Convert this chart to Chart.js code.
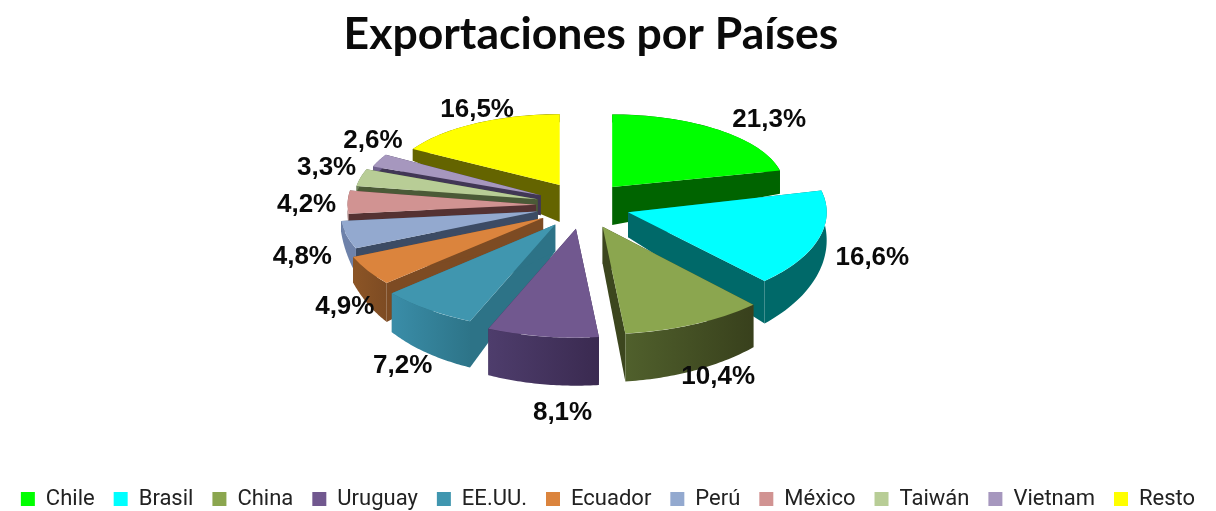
<!DOCTYPE html>
<html><head><meta charset="utf-8">
<style>html,body{margin:0;padding:0;background:#fff}#w{width:1216px;height:511px}</style>
<script src="https://cdn.jsdelivr.net/npm/chart.js@4/dist/chart.umd.min.js"></script>
</head><body><div id="w"><canvas id="c"></canvas></div>
<script>
const categories = ['Chile','Brasil','China','Uruguay','EE.UU.','Ecuador','Perú','México','Taiwán','Vietnam','Resto'];
const shares = [21.3,16.6,10.4,8.1,7.2,4.9,4.8,4.2,3.3,2.6,16.5];
const labels = ['21,3%','16,6%','10,4%','8,1%','7,2%','4,9%','4,8%','4,2%','3,3%','2,6%','16,5%'];
const topColors = ['#00FF00','#00FFFF','#8BA64F','#71588F','#4096AF','#DB843D','#93A9CF','#D19392','#B8CD96','#A697BE','#FFFF00'];
const sideColors = ['#006400','#006969','#3C461E','#3C2D55','#2D7387','#7D4B23','#3C4B64','#553232','#4B5A37','#413755','#646400'];
const outerLight = ['#006400','#006969','#50602C','#4E3D6C','#3A8DA8','#8C5526','#6E82AA','#8C5A5A','#6E825A','#6E5F8C','#646400'];
const outerDark  = ['#006400','#006969','#38401C','#3A2A50','#2D7488','#7D4B23','#6E82AA','#8C5A5A','#6E825A','#6E5F8C','#646400'];
const apexDepth = [38,25,37,37,27,22,20,20,20,20,37];
const labelNudgeX = [50,54,24,20,-25,-23,-44,-41,-34,-6,2];
const labelNudgeY = [-10,18,52,76,56,36,22,3,-10,-20,-14];

const CX = 583, CY = 205.5, EXPLODE = 47, FLAT = 0.5;
const scaleX = a => 0.97 + (Math.sin(a) > 0 ? 0.17 : 0.11) * Math.sin(a);
const scaleY = a => 0.455 + 0.105 * Math.sin(a);
const rimDepth = a => 28 + 20 * Math.sin(a) - (Math.cos(a) < 0 ? 20 * Math.pow(Math.cos(a), 8) : 0);

const pie3d = {
  id: 'pie3d',
  afterLayout(chart) {
    chart.titleBlock.left -= 17; chart.titleBlock.right -= 17;
    chart.legend.top += 9; chart.legend.bottom += 9;
  },
  beforeDatasetDraw(chart, args) {
    const ctx = chart.ctx;
    const arcs = chart.getDatasetMeta(args.index).data;
    const info = arcs.map((el, i) => {
      const mid = (el.startAngle + el.endAngle) / 2;
      const apex = { x: CX + EXPLODE * Math.cos(mid), y: CY + EXPLODE * FLAT * Math.sin(mid) };
      const sx = scaleX(mid), sy = scaleY(mid), R = el.outerRadius;
      const rim = a => ({ x: apex.x + R * sx * Math.cos(a), y: apex.y + R * sy * Math.sin(a) });
      return { el, i, mid, apex, sx, sy, rim };
    });
    const order = info.slice().sort((p, q) => Math.sin(p.mid) - Math.sin(q.mid));
    for (const s of order) {
      const { el, i, apex, rim } = s;
      const a0 = el.startAngle, a1 = el.endAngle;
      const p0 = rim(a0), p1 = rim(a1), dA = apexDepth[i];
      ctx.fillStyle = sideColors[i];
      for (const [p, a] of [[p0, a0], [p1, a1]]) {
        ctx.beginPath();
        ctx.moveTo(apex.x, apex.y);
        ctx.lineTo(p.x, p.y);
        ctx.lineTo(p.x, p.y + rimDepth(a));
        ctx.lineTo(apex.x, apex.y + dA);
        ctx.closePath();
        ctx.fill();
      }
      const grad = ctx.createLinearGradient(Math.min(p0.x, p1.x), 0, Math.max(p0.x, p1.x) + 1, 0);
      grad.addColorStop(0, outerLight[i]);
      grad.addColorStop(1, outerDark[i]);
      ctx.fillStyle = grad;
      ctx.beginPath();
      const N = 40;
      for (let k = 0; k <= N; k++) {
        const a = a0 + (a1 - a0) * k / N, p = rim(a);
        k ? ctx.lineTo(p.x, p.y) : ctx.moveTo(p.x, p.y);
      }
      for (let k = N; k >= 0; k--) {
        const a = a0 + (a1 - a0) * k / N, p = rim(a);
        ctx.lineTo(p.x, p.y + rimDepth(a));
      }
      ctx.closePath();
      ctx.fill();
      ctx.save();
      ctx.translate(apex.x, apex.y);
      ctx.scale(s.sx, s.sy);
      ctx.translate(-el.x, -el.y);
      el.draw(ctx);
      ctx.restore();
    }
    ctx.save();
    ctx.fillStyle = '#0a0a0a';
    ctx.font = 'bold 26px "Liberation Sans"';
    ctx.textAlign = 'center';
    ctx.textBaseline = 'middle';
    for (const s of info) {
      const m = s.rim(s.mid);
      ctx.fillText(labels[s.i], m.x + labelNudgeX[s.i], m.y + labelNudgeY[s.i]);
    }
    ctx.restore();
    return false;
  }
};

new Chart(document.getElementById('c'), {
  type: 'pie',
  plugins: [pie3d],
  data: { labels: categories, datasets: [{ data: shares, backgroundColor: topColors, borderWidth: 0 }] },
  options: {
    responsive: true, maintainAspectRatio: false, animation: false,
    radius: 195,
    layout: { padding: { top: 0, bottom: 0, left: 0, right: 0 } },
    plugins: {
      tooltip: { enabled: false },
      title: { display: true, text: 'Exportaciones por Países', color: '#0a0a0a',
        font: { family: 'Lato', size: 44.5, weight: 'bold' }, padding: { top: 8, bottom: 10 } },
      legend: { position: 'bottom',
        labels: { color: '#222', boxWidth: 14, boxHeight: 14, padding: 19,
          font: { family: 'Roboto', size: 22 } } }
    }
  }
});
</script></body></html>
